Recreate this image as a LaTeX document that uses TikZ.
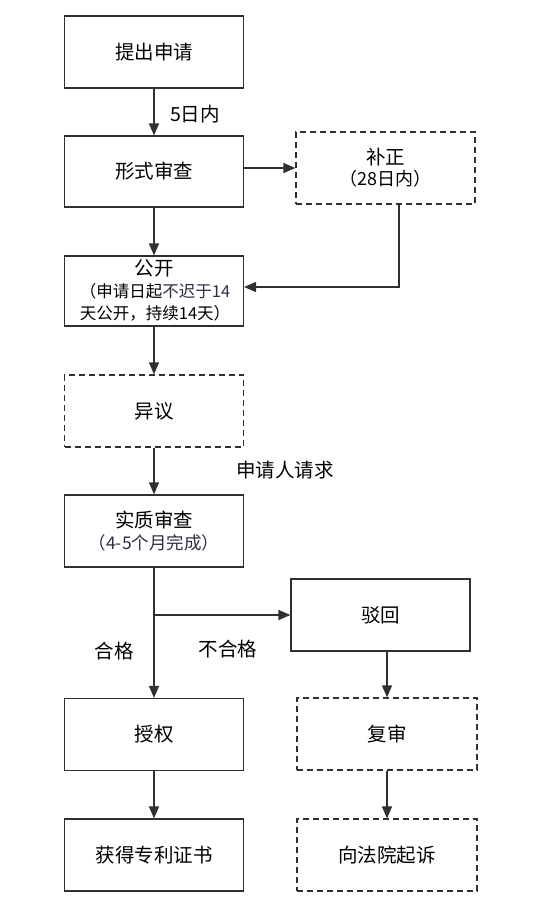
\documentclass[tikz,border=0pt]{standalone}
\usepackage{fontspec}
\setmainfont{Noto Sans CJK SC}
\usetikzlibrary{arrows.meta,calc}
\definecolor{linec}{HTML}{303030}
\definecolor{subc}{HTML}{2E2E48}
\tikzset{
  box/.style={draw=linec, line width=1.2pt, minimum width=179pt, minimum height=72pt, inner sep=2pt, font=\fontsize{19.5}{23}\selectfont, align=center},
  dbox/.style={box, dash pattern=on 6pt off 4pt},
  sub/.style={font=\fontsize{16.5}{22}\selectfont},
  arr/.style={draw=linec, line width=1.2pt, -{Triangle[length=12pt,width=10pt]}},
  lab/.style={font=\fontsize{19.5}{23}\selectfont, inner sep=0pt}
}
\begin{document}
\begin{tikzpicture}[x=1pt,y=-1pt]
\useasboundingbox (0,0) rectangle (550,913);
\fill[white] (0,0) rectangle (550,913);
\node[box] (p1) at (154,52) {提出申请};
\node[box, minimum height=71pt] (p2) at (154,171.5) {形式审查};
\node[dbox] (bz) at (385.5,168) {补正\\[-2pt]{\fontsize{18}{21}\selectfont （28日内）}};
\node[box, minimum height=70pt] (gk) at (154,291) {};
\node[lab] (gkt) at (154,268) {公开};
\node[sub, align=left, inner sep=0pt] (gkd) at (155,302) {（申请日起{\color{subc}不迟于14}\\天公开，持续14天）};
\node[dbox] (yy) at (154,411) {异议};
\node[box] (sz) at (154,531) {实质审查\\[-1pt]{\fontsize{17.5}{21}\selectfont\color{subc}（4-5个月完成）}};
\node[box] (bh) at (380.5,615) {驳回};
\node[box] (sq) at (154,734.5) {授权};
\node[box] (hd) at (154,855) {获得专利证书};
\node[dbox, minimum width=180pt] (fs) at (387,734) {复审};
\node[dbox, minimum width=180pt] (qs) at (387,855) {向法院起诉};
% labels
\node[lab] (l1) at (195,114) {5日内};
\node[lab] (l2) at (285,470) {申请人请求};
\node[lab] (l3) at (114,651) {合格};
\node[lab] (l4) at (228,649) {不合格};
% connectors
\draw[arr] (p1) -- (p2);
\draw[arr] (bz.west -| p2.east) -- (bz.west);
\draw[arr] (p2) -- (gk);
\draw[arr] ([xshift=13.5pt]bz.south) |- ([yshift=4pt]gk.east);
\draw[arr] (gk) -- (yy);
\draw[arr] (yy) -- (sz);
\draw[arr] (sz) -- (sq);
\coordinate (br) at (sz.south |- bh.west);
\draw[arr] (br) -- (bh.west);
\draw[arr] (fs.north |- bh.south) -- (fs.north);
\draw[arr] (sq) -- (hd);
\draw[arr] (fs) -- (qs);
\end{tikzpicture}
\end{document}
